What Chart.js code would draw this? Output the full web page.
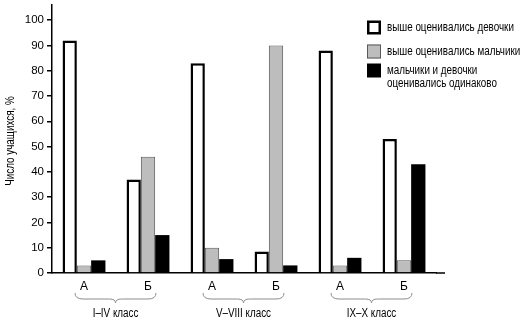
<!DOCTYPE html>
<html>
<head>
<meta charset="utf-8">
<script src="https://cdn.jsdelivr.net/npm/chart.js@4.4.1/dist/chart.umd.min.js"></script>
<style>
  html, body { margin: 0; padding: 0; background: #fff; }
  canvas { display: block; }
</style>
</head>
<body>
<canvas id="chart" width="525" height="331"></canvas>
<script>
// classes А and Б inside each school stage
const categories = ["А", "Б", "А", "Б", "А", "Б"];
const stages = ["I–IV класс", "V–VIII класс", "IX–X класс"];

// share of pupils, %
const girlsHigher = [92, 37, 83, 8.5, 88, 53];
const boysHigher = [3, 46, 10, 90, 3, 5];
const sameGrade = [5, 15, 5.5, 3, 6, 43];

const seriesNames = [
  "выше оценивались девочки",
  "выше оценивались мальчики",
  "мальчики и девочки оценивались одинаково",
];
const legendLines = [
  ["выше оценивались девочки"],
  ["выше оценивались мальчики"],
  ["мальчики и девочки", "оценивались одинаково"],
];
const yTitle = "Число учащихся, %";

const FONT = '"Liberation Sans", Arial, sans-serif';
const NARROW = 0.82; // squeeze for a condensed look

// text drawn with a horizontal squeeze
function narrowText(ctx, text, x, y, align) {
  ctx.save();
  ctx.translate(x, y);
  ctx.scale(NARROW, 1);
  ctx.textAlign = align;
  ctx.fillText(text, 0, 0);
  ctx.restore();
}

const decor = {
  id: "decor",
  afterDraw(chart) {
    const { ctx, chartArea } = chart;
    const x = chart.scales.x;
    ctx.save();

    // x axis runs a bit past the last category
    ctx.strokeStyle = "#000";
    ctx.lineWidth = 1.5;
    ctx.beginPath();
    ctx.moveTo(chartArea.right, chartArea.bottom);
    ctx.lineTo(445, chartArea.bottom);
    ctx.stroke();

    ctx.fillStyle = "#000";
    ctx.font = "12px " + FONT;
    ctx.textBaseline = "middle";

    // axis title
    ctx.save();
    ctx.translate(11, 141);
    ctx.rotate(-Math.PI / 2);
    narrowText(ctx, yTitle, 0, 0, "center");
    ctx.restore();

    // braces and stage names under each pair of classes
    stages.forEach((name, i) => {
      const x0 = x.getPixelForValue(i * 2) - 9;
      const x1 = x.getPixelForValue(i * 2 + 1) + 8;
      const mid = (x0 + x1) / 2;
      const top = chartArea.bottom + 20;
      const flat = top + 6;
      const tip = top + 10;
      ctx.strokeStyle = "#8c8c8c";
      ctx.lineWidth = 1;
      ctx.beginPath();
      ctx.moveTo(x0, top);
      ctx.quadraticCurveTo(x0, flat, x0 + 8, flat);
      ctx.lineTo(mid - 6, flat);
      ctx.quadraticCurveTo(mid, flat, mid, tip);
      ctx.quadraticCurveTo(mid, flat, mid + 6, flat);
      ctx.lineTo(x1 - 8, flat);
      ctx.quadraticCurveTo(x1, flat, x1, top);
      ctx.stroke();

      ctx.fillStyle = "#000";
      narrowText(ctx, name, mid, 314, "center");
    });

    // legend
    const ds = chart.data.datasets;
    const rows = [27.5, 51.5, 70.5];
    ds.forEach((d, i) => {
      const cy = rows[i];
      ctx.fillStyle = d.backgroundColor;
      ctx.fillRect(367, cy - 7, 14, 14);
      if (d.borderWidth) {
        ctx.strokeStyle = d.borderColor;
        ctx.lineWidth = d.borderWidth;
        const h = d.borderWidth / 2;
        ctx.strokeRect(367 + h, cy - 7 + h, 14 - d.borderWidth, 14 - d.borderWidth);
      }
      ctx.fillStyle = "#000";
      legendLines[i].forEach((line, j) => {
        narrowText(ctx, line, 387, cy + j * 13, "left");
      });
    });

    ctx.restore();
  },
};

new Chart(document.getElementById("chart"), {
  type: "bar",
  data: {
    labels: categories,
    datasets: [
      {
        label: seriesNames[0],
        data: girlsHigher,
        backgroundColor: "#ffffff",
        borderColor: "#000000",
        borderWidth: 2.5,
      },
      {
        label: seriesNames[1],
        data: boysHigher,
        backgroundColor: "#bdbdbd",
        borderColor: "#5a5a5a",
        borderWidth: 1,
      },
      {
        label: seriesNames[2],
        data: sameGrade,
        backgroundColor: "#000000",
        borderWidth: 0,
      },
    ],
  },
  options: {
    responsive: false,
    animation: false,
    devicePixelRatio: 1,
    categoryPercentage: 0.67,
    barPercentage: 1,
    layout: { padding: { top: 5, right: 89, left: 0, bottom: 0 } },
    plugins: {
      legend: { display: false },
      tooltip: { enabled: false },
    },
    scales: {
      x: {
        grid: { display: false, drawTicks: false },
        border: { display: true, color: "#000", width: 1.5 },
        ticks: {
          color: "#000",
          font: { family: FONT, size: 12 },
          padding: 6,
          maxRotation: 0,
          autoSkip: false,
        },
        afterFit(scale) {
          scale.height = 58;
          scale.paddingLeft = 0;
          scale.paddingRight = 0;
        },
      },
      y: {
        min: 0,
        max: 106,
        grid: {
          display: true,
          drawOnChartArea: false,
          drawTicks: true,
          tickLength: 5,
          color: "#000",
          lineWidth: 1.5,
        },
        border: { display: true, color: "#000", width: 1.5 },
        ticks: {
          stepSize: 10,
          includeBounds: false,
          color: "#000",
          font: { family: FONT, size: 11.5 },
          padding: 3,
        },
        afterFit(scale) {
          scale.width = 52;
          scale.paddingTop = 0;
          scale.paddingBottom = 0;
        },
      },
    },
  },
  plugins: [decor],
});
</script>
</body>
</html>
